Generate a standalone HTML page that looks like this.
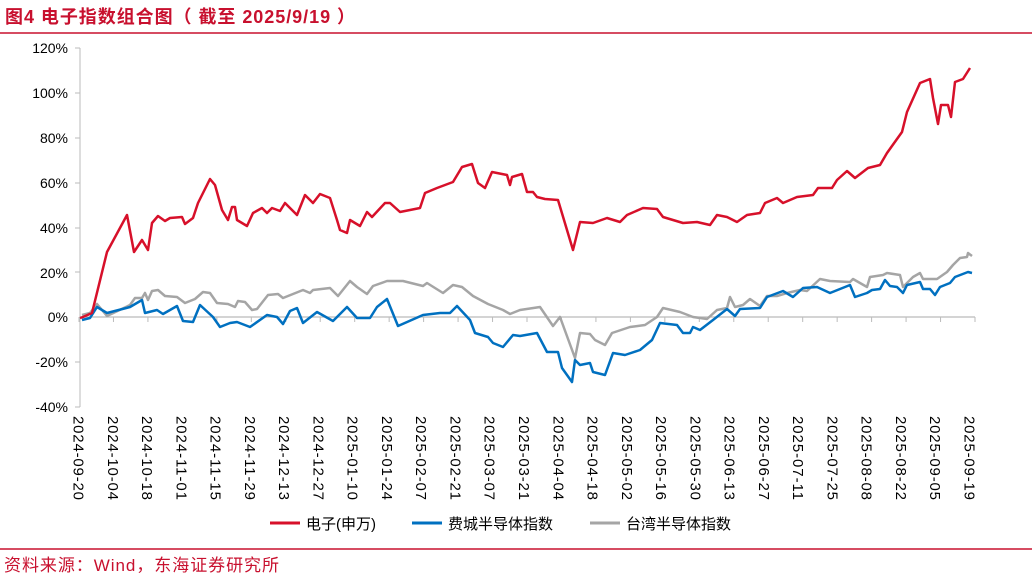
<!DOCTYPE html>
<html><head><meta charset="utf-8"><style>
body{margin:0;width:1032px;height:579px;background:#fff;overflow:hidden;font-family:"Liberation Sans","Noto Sans CJK SC",sans-serif;}
</style></head><body>
<svg width="1032" height="579" xmlns="http://www.w3.org/2000/svg" style="position:absolute;left:0;top:0">
<text x="5" y="23" font-size="18" font-weight="bold" fill="#c8102e" textLength="350" lengthAdjust="spacing" font-family="Liberation Sans,Noto Sans CJK SC,sans-serif">图4  电子指数组合图（ 截至 2025/9/19 ）</text>
<line x1="0" y1="33" x2="1032" y2="33" stroke="#c8102e" stroke-width="1.5"/>
<g font-size="14" fill="#000" text-anchor="end" font-family="Liberation Sans,sans-serif">
<text x="68" y="53">120%</text><text x="68" y="98">100%</text><text x="68" y="143">80%</text><text x="68" y="188">60%</text><text x="68" y="233">40%</text><text x="68" y="278">20%</text><text x="68" y="322">0%</text><text x="68" y="367">-20%</text><text x="68" y="412">-40%</text>
</g>
<line x1="80" y1="48" x2="80" y2="407" stroke="#bbb" stroke-width="1"/>
<g stroke="#bbb"><line x1="75" y1="48" x2="80" y2="48"/><line x1="75" y1="93" x2="80" y2="93"/><line x1="75" y1="138" x2="80" y2="138"/><line x1="75" y1="183" x2="80" y2="183"/><line x1="75" y1="228" x2="80" y2="228"/><line x1="75" y1="272" x2="80" y2="272"/><line x1="75" y1="362" x2="80" y2="362"/><line x1="75" y1="407" x2="80" y2="407"/></g>
<line x1="80" y1="317" x2="975" y2="317" stroke="#bbb" stroke-width="1.2"/>
<g id="ticks" stroke="#bbb"></g>
<g font-size="15" fill="#000" font-family="Liberation Sans,sans-serif" id="xl"></g>
<polyline fill="none" stroke="#a5a5a5" stroke-width="2.5" stroke-linejoin="round" points="82,315 90,313 97,304 107,316 130,305 135,298 142,298 145,293 148,300 152,291 158,290 165,296 177,297 185,303 195,299 203,292 210,293 217,303 228,304 235,307 238,301 245,302 252,310 257,309 268,295 278,294 283,298 303,290 310,293 313,290 330,288 338,296 350,281 357,287 367,294 373,286 387,281 403,281 423,286 427,283 443,293 453,285 462,287 473,296 488,304 503,310 510,314 520,310 540,307 553,326 560,317 575,358 580,333 590,334 595,340 605,345 612,333 630,327 645,325 657,317 663,308 680,312 693,317 707,319 717,310 727,308 730,297 735,307 743,305 750,299 760,306 767,296 777,296 787,293 800,290 807,291 820,279 830,281 850,282 853,279 867,287 870,277 883,275 887,273 900,275 903,287 913,277 920,273 923,279 937,279 947,272 953,265 960,258 967,257 968,253 972,256"/>
<polyline fill="none" stroke="#0070c0" stroke-width="2.5" stroke-linejoin="round" points="82,320 90,318 97,307 107,313 130,307 142,300 145,313 157,310 163,314 177,306 183,321 193,322 200,305 213,317 220,327 230,323 237,322 250,327 267,315 277,317 283,324 290,311 297,308 303,323 317,312 333,321 347,307 357,318 370,318 377,307 387,299 398,326 423,315 440,313 450,313 457,306 470,320 475,333 488,337 493,343 503,347 513,335 520,336 537,333 547,352 558,352 562,368 572,382 575,360 580,365 590,363 593,372 605,375 613,353 625,355 640,350 652,340 660,323 677,325 683,333 690,333 693,327 700,330 713,320 727,309 735,316 740,309 760,308 767,297 783,291 793,297 803,288 817,287 830,293 850,285 855,297 867,293 872,290 880,289 885,280 890,286 897,287 903,293 907,285 920,282 923,289 930,289 935,295 940,287 950,283 955,277 968,272 972,273"/>
<polyline fill="none" stroke="#d7102a" stroke-width="2.5" stroke-linejoin="round" points="80,318 83,317 92,313 107,252 127,215 134,252 142,240 148,250 152,223 158,216 165,221 170,218 182,217 185,224 193,218 198,203 210,179 215,185 222,210 228,220 232,207 235,207 237,220 247,226 253,213 262,208 267,213 272,208 280,211 285,203 297,215 305,195 313,203 320,194 330,198 337,220 340,230 347,233 350,220 360,226 367,212 372,217 385,203 390,203 400,212 420,208 425,193 437,188 453,182 462,167 472,164 478,183 485,188 492,172 507,175 510,185 512,177 522,174 527,192 533,192 537,197 545,199 558,200 573,250 580,222 593,223 607,218 620,222 627,215 643,208 657,209 663,217 683,223 697,222 710,225 717,215 727,217 737,222 747,215 760,213 765,203 777,198 783,203 797,197 813,195 818,188 832,188 837,180 847,171 855,178 868,168 880,165 887,153 902,132 907,112 920,83 930,79 933,98 938,124 941,105 948,105 951,117 955,82 963,79 970,68"/>
<line x1="270" y1="523" x2="300" y2="523" stroke="#d7102a" stroke-width="3"/>
<text x="306" y="529" font-size="15" font-family="Liberation Sans,Noto Sans CJK SC,sans-serif">电子(申万)</text>
<line x1="412" y1="523" x2="442" y2="523" stroke="#0070c0" stroke-width="3"/>
<text x="448" y="529" font-size="15" font-family="Liberation Sans,Noto Sans CJK SC,sans-serif">费城半导体指数</text>
<line x1="590" y1="523" x2="620" y2="523" stroke="#a5a5a5" stroke-width="3"/>
<text x="626" y="529" font-size="15" font-family="Liberation Sans,Noto Sans CJK SC,sans-serif">台湾半导体指数</text>
<line x1="0" y1="549" x2="1032" y2="549" stroke="#c8102e" stroke-width="1.5"/>
<text x="4" y="571" font-size="17" fill="#c8102e" textLength="275" lengthAdjust="spacing" font-family="Liberation Sans,Noto Sans CJK SC,sans-serif">资料来源：Wind，东海证券研究所</text>
</svg>
<script>
var d=["2024-09-20","2024-10-04","2024-10-18","2024-11-01","2024-11-15","2024-11-29","2024-12-13","2024-12-27","2025-01-10","2025-01-24","2025-02-07","2025-02-21","2025-03-07","2025-03-21","2025-04-04","2025-04-18","2025-05-02","2025-05-16","2025-05-30","2025-06-13","2025-06-27","2025-07-11","2025-07-25","2025-08-08","2025-08-22","2025-09-05","2025-09-19"];
var ns="http://www.w3.org/2000/svg",xl=document.getElementById("xl"),tk=document.getElementById("ticks");
var n=d.length,x0=79,x1=970;
for(var i=0;i<n;i++){var x=x0+(x1-x0)*i/(n-1);
var t=document.createElementNS(ns,"text");t.setAttribute("transform","translate("+(x-5.5)+",416) rotate(90)");t.setAttribute("textLength","84");t.textContent=d[i];xl.appendChild(t);}
for(var j=0;j<=26;j++){var xx=x0+(975-x0)*j/26;var l=document.createElementNS(ns,"line");l.setAttribute("x1",xx);l.setAttribute("x2",xx);l.setAttribute("y1",317);l.setAttribute("y2",322);tk.appendChild(l);}
</script>
</body></html>
